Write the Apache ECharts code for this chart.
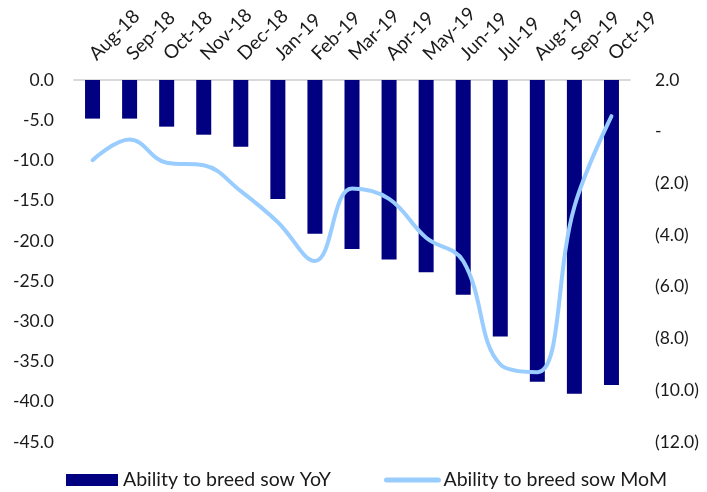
<!DOCTYPE html>
<html>
<head>
<meta charset="utf-8">
<script src="https://cdn.jsdelivr.net/npm/echarts@6/dist/echarts.min.js"></script>
<style>
  html, body { margin: 0; padding: 0; background: #fff; }
  #chart { width: 707px; height: 492px; }
</style>
</head>
<body>
<div id="chart"></div>
<script>
// Monthly categories
var months = ['Aug-18', 'Sep-18', 'Oct-18', 'Nov-18', 'Dec-18', 'Jan-19', 'Feb-19',
              'Mar-19', 'Apr-19', 'May-19', 'Jun-19', 'Jul-19', 'Aug-19', 'Sep-19', 'Oct-19'];

// Year-on-year change (%), left axis
var sowYoY = [-4.8, -4.8, -5.8, -6.8, -8.3, -14.8, -19.1, -21.0, -22.3, -23.9, -26.7, -31.9, -37.5, -39.0, -37.9];

// Month-on-month change (%), right axis
var sowMoM = [-1.1, -0.3, -1.2, -1.3, -2.3, -3.5, -5.0, -2.2, -2.6, -4.1, -5.0, -9.0, -9.3, -2.9, 0.6];

var seriesNames = ['Ability to breed sow YoY', 'Ability to breed sow MoM'];

var FONT = 'Lato, "Open Sans", sans-serif';
var TXT = '#1a1a1a';

function rightFmt(v) {
  if (Math.abs(v) < 1e-9) return '-';
  if (v < 0) return '(' + (-v).toFixed(1) + ')';
  return v.toFixed(1);
}

var chart = echarts.init(document.getElementById('chart'), null, { renderer: 'canvas' });

chart.setOption({
  animation: false,
  backgroundColor: '#ffffff',
  textStyle: { fontFamily: FONT, color: TXT },
  grid: { left: 74, right: 77, top: 80, bottom: 50, containLabel: false },
  legend: {
    left: 61,
    top: 465,
    itemGap: 53,
    itemWidth: 52,
    itemHeight: 12,
    textStyle: { fontFamily: FONT, fontSize: 19.5, color: TXT },
    data: [
      { name: seriesNames[0], icon: 'rect' },
      { name: seriesNames[1], itemStyle: { opacity: 0 }, lineStyle: { width: 5, cap: 'round' } }
    ]
  },
  xAxis: {
    type: 'category',
    position: 'top',
    data: months,
    axisLine: { show: true, lineStyle: { color: '#d9d9d9', width: 2 } },
    axisTick: { show: false },
    axisLabel: {
      rotate: 45,
      margin: 23,
      interval: 0,
      fontFamily: FONT,
      fontSize: 19,
      color: TXT
    }
  },
  yAxis: [
    {
      type: 'value',
      min: -45,
      max: 0,
      interval: 5,
      axisLine: { show: false },
      axisTick: { show: false },
      splitLine: { show: false },
      axisLabel: {
        margin: 20,
        fontFamily: FONT,
        fontSize: 17.5,
        color: TXT,
        formatter: function (v) { return v.toFixed(1); }
      }
    },
    {
      type: 'value',
      min: -12,
      max: 2,
      interval: 2,
      axisLine: { show: false },
      axisTick: { show: false },
      splitLine: { show: false },
      axisLabel: {
        margin: 25,
        fontFamily: FONT,
        fontSize: 17.5,
        color: TXT,
        formatter: rightFmt
      }
    }
  ],
  series: [
    {
      name: seriesNames[0],
      type: 'bar',
      yAxisIndex: 0,
      data: sowYoY,
      barWidth: 15,
      itemStyle: { color: '#000080' },
      z: 2
    },
    {
      name: seriesNames[1],
      type: 'line',
      yAxisIndex: 1,
      data: sowMoM,
      smooth: 0.4,
      symbol: 'none',
      lineStyle: { color: '#99ccff', width: 4, cap: 'round' },
      itemStyle: { color: '#99ccff' },
      z: 3
    }
  ]
});
</script>
</body>
</html>
